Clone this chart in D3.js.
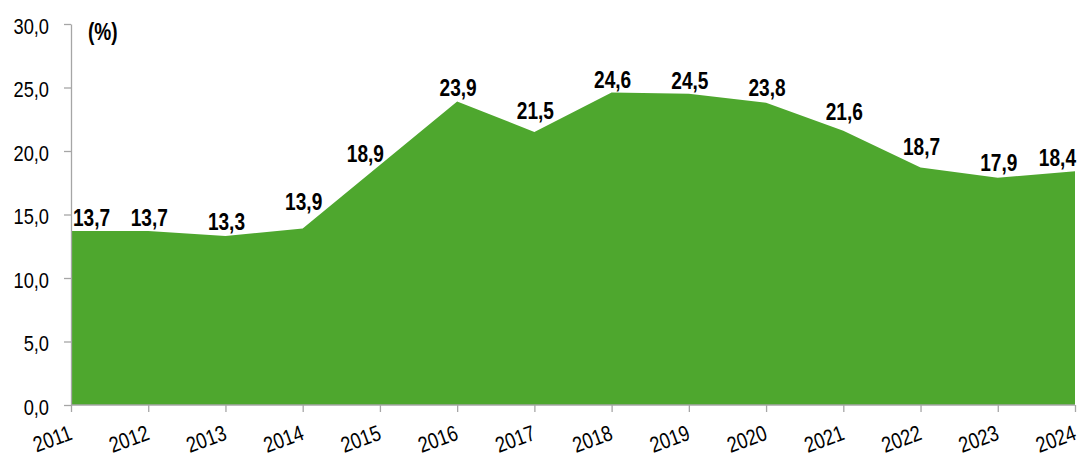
<!DOCTYPE html>
<html>
<head>
<meta charset="utf-8">
<script src="https://cdn.jsdelivr.net/npm/d3@7"></script>
<style>
	body { margin: 0; background: #fff; }
	svg text { font-family: "Liberation Sans", Arial, sans-serif; }
	.tick text { font-size: 22px; fill: #000; }
	.axis path, .axis line { stroke: #a6a6a6; stroke-width: 1.3; }
	.vlabel { font-size: 23px; font-weight: bold; fill: #000; }
</style>
</head>
<body>
<svg id="chart" width="1087" height="457"></svg>
<script>
var years = ["2011","2012","2013","2014","2015","2016","2017","2018","2019","2020","2021","2022","2023","2024"];
var values = [13.7, 13.7, 13.3, 13.9, 18.9, 23.9, 21.5, 24.6, 24.5, 23.8, 21.6, 18.7, 17.9, 18.4];
var yTicks = [0, 5, 10, 15, 20, 25, 30];

var svg = d3.select("#chart"),
	mLeft = 71, mRight = 1075, mTop = 24, mBottom = 405,
	narrow = "scale(0.83,1)";

var x = d3.scalePoint().domain(years).range([mLeft, mRight]);
var y = d3.scaleLinear().domain([0, 30]).range([mBottom, mTop]);
var fmt = function(v){ return d3.format(".1f")(v).replace(".", ","); };

var data = years.map(function(d, i){ return {year: d, value: values[i]}; });

// area
svg.append("path")
	.datum(data)
	.attr("fill", "#4ea72e")
	.attr("d", d3.area()
		.x(function(d){ return x(d.year); })
		.y0(y(0))
		.y1(function(d){ return y(d.value); }));

// y axis
svg.append("g")
	.attr("class", "axis")
	.attr("transform", "translate(" + mLeft + ",0)")
	.call(d3.axisLeft(y).tickValues(yTicks).tickFormat(fmt).tickSize(7).tickSizeOuter(0))
	.selectAll(".tick text")
	.attr("x", 0).attr("dy", "0.42em")
	.attr("transform", "translate(-22,0) " + narrow);

// x axis
var xa = svg.append("g")
	.attr("class", "axis")
	.attr("transform", "translate(0," + mBottom + ")")
	.call(d3.axisBottom(x).tickSize(7).tickSizeOuter(0));
xa.select(".domain").attr("d", "M" + mLeft + ",0H" + mRight);
xa.selectAll(".tick text")
	.attr("text-anchor", "end")
	.attr("x", 0).attr("y", 0).attr("dy", 0)
	.attr("transform", "translate(2,34) rotate(-20) " + narrow);

// unit
svg.append("text")
	.attr("class", "vlabel")
	.attr("transform", "translate(88,40) " + narrow)
	.text("(%)");

// value labels, lifted above the line under the label's width
var half = 16;
function lineAt(px){
	var pts = data.map(function(d){ return [x(d.year), y(d.value)]; });
	for (var i = 0; i < pts.length - 1; i++) {
		if (px >= pts[i][0] && px <= pts[i+1][0]) {
			var t = (px - pts[i][0]) / (pts[i+1][0] - pts[i][0]);
			return pts[i][1] + t * (pts[i+1][1] - pts[i][1]);
		}
	}
	return px < pts[0][0] ? pts[0][1] : pts[pts.length-1][1];
}
// steep climb: label sits to the left of the line instead
function steep(i){
	return i > 0 && i < values.length - 1 && values[i+1] - values[i-1] > 8;
}
svg.append("g").selectAll("text")
	.data(data)
	.enter().append("text")
	.attr("class", "vlabel")
	.attr("text-anchor", function(d, i){
		if (i === 0) return "start";
		if (i === data.length - 1 || steep(i)) return "end";
		return "middle";
	})
	.attr("transform", function(d, i){
		var px = x(d.year), lx, ly;
		if (steep(i)) {
			lx = px + 4;
			ly = y(d.value) - 3;
		} else {
			lx = i === 0 ? px + 2 : px + 1;
			ly = Math.min(lineAt(px - half), lineAt(px), lineAt(px + half)) - 5;
		}
		return "translate(" + lx + "," + ly + ") " + narrow;
	})
	.text(function(d){ return fmt(d.value); });
</script>
</body>
</html>
